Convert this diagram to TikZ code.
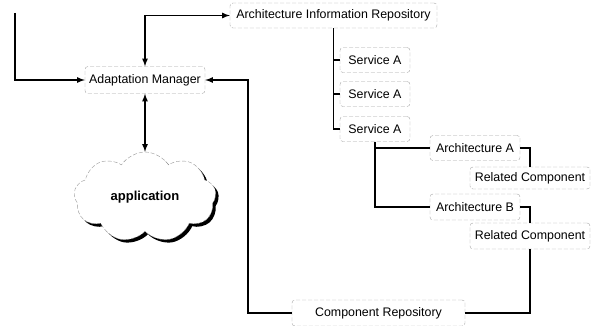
\documentclass[tikz,border=0pt]{standalone}
\usepackage{fontspec}
\setmainfont{Liberation Sans}
\usetikzlibrary{shapes.symbols,shadows}
\tikzset{>=latex}
\tikzset{
    box/.style={draw=gray!70, thin, dash pattern=on 4pt off 2pt, rounded corners=3pt,
        inner sep=0pt, fill=white, font=\fontsize{12.4}{14}\selectfont},
    link/.style={black, line width=1.6pt},
}

\begin{document}
\begin{tikzpicture}[x=1pt,y=-1pt]

    \useasboundingbox (0,0) rectangle (592,326);

    \node[box, minimum width=207, minimum height=25] (air) at (333.5,15.5) {Architecture Information Repository};
    \node[box, minimum width=120, minimum height=27] (am) at (145,80) {Adaptation Manager};

    \node[box, minimum width=70, minimum height=25] (svc1) at (375,60) {Service A};
    \node[box, minimum width=70, minimum height=25] (svc2) at (375,94) {Service A};
    \node[box, minimum width=70, minimum height=25] (svc3) at (375,129) {Service A};

    \node[box, minimum width=90, minimum height=25] (archA) at (475,148) {Architecture A};
    \node[box, minimum width=90, minimum height=26] (archB) at (475,207) {Architecture B};
    \node[box, minimum width=120, minimum height=22] (relA) at (530,178) {Related Component};
    \node[box, minimum width=120, minimum height=26] (relB) at (530,236) {Related Component};

    \node[box, minimum width=173, minimum height=26] (comp) at (378.5,313) {Component Repository};

    \node[cloud, cloud puffs=9, cloud puff arc=115, aspect=1.7, draw=gray!80, thin,
        dash pattern=on 4pt off 2pt, fill=white, minimum width=142, minimum height=90,
        drop shadow={shadow xshift=3pt, shadow yshift=-3pt, opacity=1, fill=black},
        font=\fontsize{13}{15}\selectfont\bfseries] (app) at (145,197) {application};

    \coordinate (start) at (15,13);
    \coordinate (bend) at (248,313);

    \draw[link,->] (start) |- (am.west);
    \draw[link,<->] (am.north) |- (air.west);
    \draw[link,<->] (am.south) -- (app.north);

    \draw[link] (air.south) |- (svc3.west);
    \draw[link] (air.south |- svc1.west) -- (svc1.west);
    \draw[link] (air.south |- svc2.west) -- (svc2.west);

    \draw[link] (svc3.south) |- (archB.west);
    \draw[link] (svc3.south |- archA.west) -- (archA.west);

    \draw[link] (archA.east) -| (relA.north);
    \draw[link] (archB.east) -| (relB.north);
    \draw[link] (relB.south) |- (comp.east);
    \draw[link,->] (comp.west) -- (bend) |- (am.east);

\end{tikzpicture}
\end{document}
